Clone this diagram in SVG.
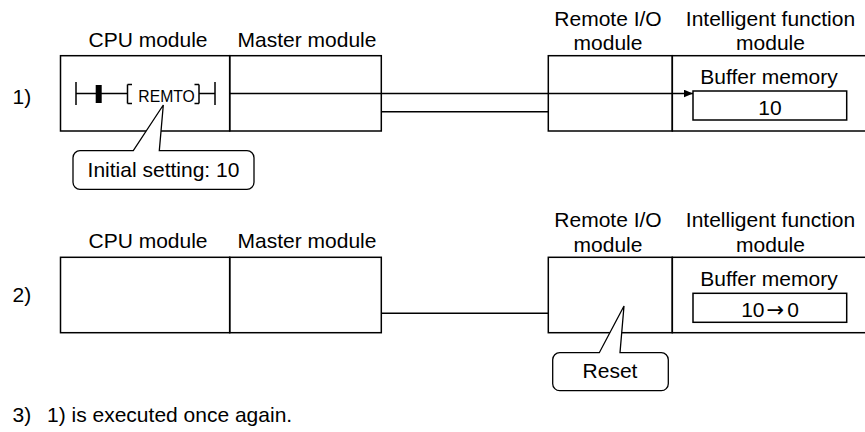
<svg xmlns="http://www.w3.org/2000/svg" width="865" height="432" viewBox="0 0 865 432">
<style>
.box{fill:none;stroke:#000;stroke-width:1.5}
.ln{fill:none;stroke:#000;stroke-width:1.5}
.call{fill:#fff;stroke:#000;stroke-width:1.3;stroke-linejoin:miter}
text{font-family:"Liberation Sans",Arial,sans-serif;font-size:21px;fill:#000}
.c{text-anchor:middle}
.sm{font-size:16px}
.arr{font-family:"DejaVu Sans",sans-serif;font-size:21px}
</style>
<defs>
<marker id="ah" markerWidth="10" markerHeight="8" refX="9" refY="3.8" orient="auto" markerUnits="userSpaceOnUse">
<path d="M0,0 L9,3.8 L0,7.6 Z" fill="#000"/>
</marker>
</defs>
<rect width="865" height="432" fill="#fff"/>

<!-- Row 1 -->
<text x="12.5" y="104">1)</text>
<g id="cpu1">
<text class="c" x="148" y="46.5">CPU module</text>
<rect class="box" x="60.5" y="55.7" width="169.2" height="75.3"/>
<path class="ln" d="M76,82 V105 M76,93.5 H127.5 M127.5,84.5 V103.5 M127.5,84.5 H132 M127.5,103.5 H132 M199,84.5 V103.5 M199,84.5 H194.5 M199,103.5 H194.5 M199,93.5 H215 M215,82 V105"/>
<rect x="95.7" y="85" width="6" height="18" fill="#000"/>
<text class="sm" x="138.3" y="101.5" textLength="56.5" lengthAdjust="spacingAndGlyphs">REMTO</text>
</g>
<g id="master1">
<text class="c" x="307" y="46.5">Master module</text>
<rect class="box" x="229.7" y="55.7" width="151.6" height="75.3"/>
</g>
<g id="remote1">
<text class="c" x="608" y="26">Remote I/O</text>
<text class="c" x="608" y="50">module</text>
<rect class="box" x="548.3" y="55.7" width="124" height="75.3"/>
</g>
<g id="intel1">
<text class="c" x="770.5" y="26">Intelligent function</text>
<text class="c" x="770.5" y="50">module</text>
<rect class="box" x="672.3" y="55.7" width="200" height="75.3"/>
<text class="c" x="769" y="83.5">Buffer memory</text>
<rect class="box" x="693" y="91" width="153.7" height="29"/>
<text class="c" x="770" y="114.5">10</text>
</g>
<g id="callout1">
<path class="call" d="M133.3,150.7 H80 A7,7 0 0 0 73,157.7 V182.3 A7,7 0 0 0 80,189.3 H247 A7,7 0 0 0 254,182.3 V157.7 A7,7 0 0 0 247,150.7 H159.3 L163.3,105 Z"/>
<text class="c" x="163.5" y="177">Initial setting: 10</text>
</g>

<!-- Row 2 -->
<text x="12.5" y="301.7">2)</text>
<g id="cpu2">
<text class="c" x="148" y="248.3">CPU module</text>
<rect class="box" x="60.5" y="257.3" width="169.2" height="75.4"/>
</g>
<g id="master2">
<text class="c" x="307" y="248.3">Master module</text>
<rect class="box" x="229.7" y="257.3" width="151.6" height="75.4"/>
</g>
<g id="remote2">
<text class="c" x="608" y="226.7">Remote I/O</text>
<text class="c" x="608" y="251.7">module</text>
<rect class="box" x="548.3" y="257.3" width="124" height="75.4"/>
</g>
<g id="intel2">
<text class="c" x="770" y="316.7">10<tspan class="arr" dx="2">→</tspan><tspan dx="3">0</tspan></text>
<text class="c" x="770.5" y="226.7">Intelligent function</text>
<text class="c" x="770.5" y="251.7">module</text>
<rect class="box" x="672.3" y="257.3" width="200" height="75.4"/>
<text class="c" x="769" y="286">Buffer memory</text>
<rect class="box" x="693" y="293.3" width="153.7" height="29"/>
</g>
<g id="callout2">
<path class="call" d="M599.3,352.7 H559.7 A7,7 0 0 0 552.7,359.7 V383.7 A7,7 0 0 0 559.7,390.7 H661.3 A7,7 0 0 0 668.3,383.7 V359.7 A7,7 0 0 0 661.3,352.7 H620 L624,306 Z"/>
<text class="c" x="610" y="378.3">Reset</text>
</g>

<g id="connectors">
<path class="ln" d="M229.7,93.5 H693" marker-end="url(#ah)"/>
<path class="ln" d="M381.3,111.7 H548.3"/>
<path class="ln" d="M381.3,313.3 H548.3"/>
</g>

<text x="12.5" y="422">3)</text>
<text x="47" y="422">1) is executed once again.</text>
</svg>
